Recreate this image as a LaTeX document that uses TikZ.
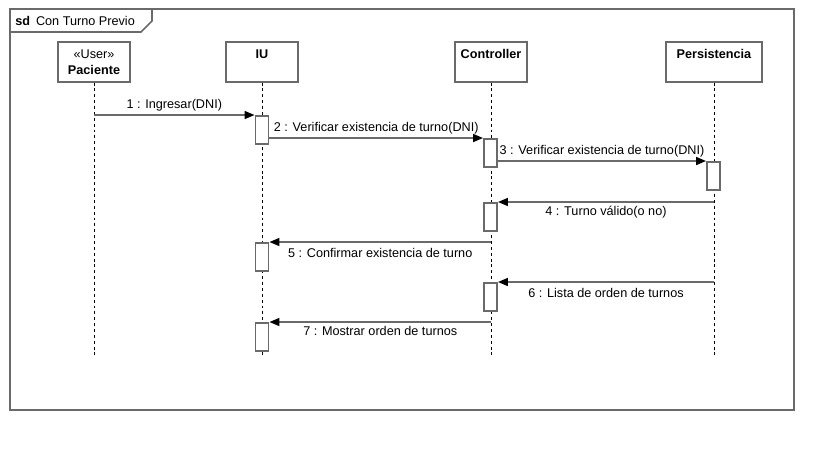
\documentclass[tikz,border=0pt]{standalone}
\usepackage{fontspec}
\setmainfont{Liberation Sans}
\usetikzlibrary{arrows.meta}
\definecolor{umlgray}{HTML}{6A6A6A}

\begin{document}
\begin{tikzpicture}[x=0.75pt,y=-0.75pt,font=\fontsize{9.5}{12}\selectfont]
\useasboundingbox (0,0) rectangle (834,450);

% frame
\draw[umlgray,line width=1.2pt] (10,9) rectangle (794,410);
\draw[umlgray,line width=1.2pt] (10,32) -- (141,32) -- (152,21) -- (152,9);
\node[anchor=west,inner sep=0pt] (title) at (15,20.5) {\textbf{sd}\hspace{4.5pt}Con Turno Previo};

\begin{scope}[every node/.style={draw=umlgray,line width=1.2pt,fill=white,anchor=north,
              minimum width=54pt,minimum height=30pt,align=center}]
    \node (Paciente) at (94,41) {«User»\\\textbf{Paciente}};
    \node (IU) at (262,41) {\textbf{IU}\\\mbox{}};
    \node (Controller) at (491,41) {\textbf{Controller}\\\mbox{}};
    \node[minimum width=72pt] (Persistencia) at (714,41) {\textbf{Persistencia}\\\mbox{}};
\end{scope}

% lifelines
\coordinate (PacienteEnd) at (94,358);
\coordinate (IUEnd) at (262,358);
\coordinate (ControllerEnd) at (491,358);
\coordinate (PersistenciaEnd) at (714,358);
\begin{scope}[dash pattern=on 2.2pt off 2.2pt,line width=0.7pt]
    \draw (Paciente) -- (PacienteEnd);
    \draw (IU) -- (IUEnd);
    \draw (Controller) -- (ControllerEnd);
    \draw (Persistencia) -- (PersistenciaEnd);
\end{scope}

% activation bars
\begin{scope}[every node/.style={draw=umlgray,line width=1.2pt,fill=white,anchor=north,
              minimum width=10pt,minimum height=21pt,inner sep=0pt}]
    \node (IUa) at (262,115) {};
    \node (Controllera) at (490.5,138) {};
    \node (Persistenciaa) at (713.5,161) {};
    \node (Controllerb) at (490.5,202) {};
    \node (IUb) at (262,242) {};
    \node (Controllerc) at (490.5,282) {};
    \node (IUc) at (262,322) {};
\end{scope}

\begin{scope}[>={Triangle[black,length=7.5pt,width=6pt]},
              every node/.style={inner sep=2.5pt},
              every edge/.style={draw=umlgray,line width=1.2pt}]
    \path [->] (PacienteEnd |- IUa.north) edge node[above] {1 : Ingresar(DNI)} (IUa.north west);
    \path [->] (IUa.east |- Controllera.north) edge node[above] {2 : Verificar existencia de turno(DNI)} (Controllera.north west);
    \path [->] (Controllera.east |- Persistenciaa.north) edge node[above] {3 : Verificar existencia de turno(DNI)} (Persistenciaa.north west);
    \path [->] (PersistenciaEnd |- Controllerb.north) edge node[below] {4 : Turno válido(o no)} (Controllerb.north east);
    \path [->] (ControllerEnd |- IUb.north) edge node[below,yshift=-2pt] {5 : Confirmar existencia de turno} (IUb.north east);
    \path [->] (PersistenciaEnd |- Controllerc.north) edge node[below,yshift=-2pt] {6 : Lista de orden de turnos} (Controllerc.north east);
    \path [->] (ControllerEnd |- IUc.north) edge node[below] {7 : Mostrar orden de turnos} (IUc.north east);
\end{scope}
\end{tikzpicture}
\end{document}
